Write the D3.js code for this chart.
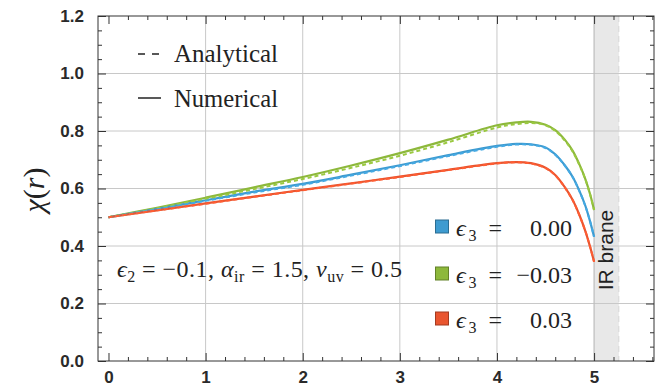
<!DOCTYPE html>
<html><head><meta charset="utf-8">
<script src="https://cdn.jsdelivr.net/npm/d3@7"></script>
<style>html,body{margin:0;padding:0;background:#fff;} svg{display:block;}</style>
</head><body>
<svg id="c" width="657" height="387"></svg>
<script>
// ---- data ----
const r = [0, 0.5, 1, 1.5, 2, 2.5, 3, 3.5, 4, 4.2, 4.35, 4.5, 4.6, 4.7, 4.78, 4.85, 4.91, 4.96, 5];
const greenNum = [0.5, 0.533, 0.568, 0.604, 0.640, 0.680, 0.723, 0.770, 0.820, 0.830, 0.832, 0.822, 0.803, 0.769, 0.731, 0.683, 0.633, 0.579, 0.525];
const greenAna = [0.5, 0.531, 0.564, 0.598, 0.633, 0.672, 0.714, 0.761, 0.812, 0.824, 0.828, 0.820, 0.800, 0.766, 0.728, 0.681, 0.632, 0.578, 0.525];
const blueNum  = [0.5, 0.529, 0.559, 0.589, 0.616, 0.648, 0.681, 0.716, 0.748, 0.755, 0.754, 0.743, 0.719, 0.680, 0.640, 0.591, 0.540, 0.484, 0.432];
const blueAna  = [0.5, 0.528, 0.557, 0.586, 0.613, 0.645, 0.678, 0.713, 0.745, 0.753, 0.752, 0.741, 0.717, 0.679, 0.639, 0.590, 0.539, 0.484, 0.432];
const redNum   = [0.5, 0.524, 0.548, 0.572, 0.595, 0.618, 0.641, 0.665, 0.688, 0.692, 0.688, 0.672, 0.647, 0.604, 0.560, 0.507, 0.452, 0.396, 0.345];
const redAna   = [0.5, 0.524, 0.547, 0.571, 0.594, 0.617, 0.640, 0.664, 0.687, 0.691, 0.687, 0.671, 0.646, 0.603, 0.559, 0.506, 0.452, 0.396, 0.345];
const seriesNames = ["0.00", "−0.03", "0.03"];
const seriesColors = ["#3e9bd0", "#8db83b", "#e9552f"];
const xTicks = [0, 1, 2, 3, 4, 5];
const yTicks = [0.0, 0.2, 0.4, 0.6, 0.8, 1.0, 1.2];
const braneRange = [5, 5.255];
const xDomain = [-0.108, 5.617];
const yDomain = [0, 1.2];

// ---- setup ----
const svg = d3.select("#c");
const L = 98, R = 654, T = 16, B = 361;
const x = d3.scaleLinear().domain(xDomain).range([L, R]);
const y = d3.scaleLinear().domain(yDomain).range([B, T]);

// brane band
svg.append("rect").attr("x", x(braneRange[0])).attr("y", T)
  .attr("width", x(braneRange[1]) - x(braneRange[0])).attr("height", B - T)
  .attr("fill", "#e8e8e8");

// grid
const grid = svg.append("g").attr("stroke", "#c8c8c8").attr("stroke-width", 1);
[1, 2, 3, 4].forEach(v => grid.append("line").attr("x1", x(v)).attr("x2", x(v)).attr("y1", T).attr("y2", B));
[0.2, 0.4, 0.6, 0.8, 1.0].forEach(v => grid.append("line").attr("x1", L).attr("x2", R).attr("y1", y(v)).attr("y2", y(v)));
svg.append("line").attr("x1", x(braneRange[0])).attr("x2", x(braneRange[0])).attr("y1", T).attr("y2", B)
  .attr("stroke", "#bdbdbd").attr("stroke-width", 1.2);
svg.append("line").attr("x1", x(braneRange[1])).attr("x2", x(braneRange[1])).attr("y1", T).attr("y2", B)
  .attr("stroke", "#d6d6d6").attr("stroke-width", 1).attr("stroke-dasharray", "6,4");

// frame and ticks via d3 axes
const tickCol = "#333";
function styleAxis(g) {
  g.select(".domain").remove();
  g.selectAll("line").attr("stroke", tickCol).attr("stroke-width", 1);
}
const xMinor = d3.range(0, 5.61, 0.2).filter(v => Math.abs(v - Math.round(v)) > 1e-6);
const yMinor = d3.range(0, 1.2001, 0.05).filter(v => Math.abs(v * 5 - Math.round(v * 5)) > 1e-6);
const sans = "Liberation Sans, Arial, sans-serif";

// bottom
const gb = svg.append("g").attr("transform", `translate(0,${B})`);
gb.call(d3.axisBottom(x).tickValues(xTicks).tickSize(-8).tickFormat(d3.format("d")).tickPadding(13)).call(styleAxis);
gb.selectAll("text").attr("font-family", sans).attr("font-size", 17)
  .attr("fill", "#2a2a2a").attr("font-weight", "bold").attr("dy", "0.5em");
svg.append("g").attr("transform", `translate(0,${B})`).call(d3.axisBottom(x).tickValues(xMinor).tickSize(-4).tickFormat("")).call(styleAxis);
// top
svg.append("g").attr("transform", `translate(0,${T})`).call(d3.axisTop(x).tickValues(xTicks).tickSize(-8).tickFormat("")).call(styleAxis);
svg.append("g").attr("transform", `translate(0,${T})`).call(d3.axisTop(x).tickValues(xMinor).tickSize(-4).tickFormat("")).call(styleAxis);
// left
const gl = svg.append("g").attr("transform", `translate(${L},0)`);
gl.call(d3.axisLeft(y).tickValues(yTicks).tickSize(-8).tickFormat(d3.format(".1f")).tickPadding(14)).call(styleAxis);
gl.selectAll("text").attr("font-family", sans).attr("font-size", 17)
  .attr("fill", "#2a2a2a").attr("font-weight", "bold");
svg.append("g").attr("transform", `translate(${L},0)`).call(d3.axisLeft(y).tickValues(yMinor).tickSize(-4).tickFormat("")).call(styleAxis);
// right
svg.append("g").attr("transform", `translate(${R},0)`).call(d3.axisRight(y).tickValues(yTicks).tickSize(-8).tickFormat("")).call(styleAxis);
svg.append("g").attr("transform", `translate(${R},0)`).call(d3.axisRight(y).tickValues(yMinor).tickSize(-4).tickFormat("")).call(styleAxis);

svg.append("rect").attr("x", L).attr("y", T).attr("width", R - L).attr("height", B - T)
  .attr("fill", "none").attr("stroke", tickCol).attr("stroke-width", 1);

// curves
const line = d3.line().x(d => x(d[0])).y(d => y(d[1])).curve(d3.curveCatmullRom.alpha(0.5));
const nums = [blueNum, greenNum, redNum];
const anas = [blueAna, greenAna, redAna];
const order = [1, 0, 2];
order.forEach(i => {
  svg.append("path").datum(r.map((v, k) => [v, nums[i][k]])).attr("d", line)
    .attr("fill", "none").attr("stroke", seriesColors[i]).attr("stroke-width", 2.2);
});
order.forEach(i => {
  svg.append("path").datum(r.map((v, k) => [v, anas[i][k]])).attr("d", line)
    .attr("fill", "none").attr("stroke", d3.color(seriesColors[i]).brighter(0.25)).attr("stroke-width", 2)
    .attr("stroke-dasharray", "4,3");
});

// legend (line styles)
const serif = "Liberation Serif, Times New Roman, serif";
const lg = svg.append("g");
lg.append("line").attr("x1", 138).attr("x2", 161).attr("y1", 54).attr("y2", 54)
  .attr("stroke", "#222").attr("stroke-width", 1.5).attr("stroke-dasharray", "7,7");
lg.append("text").attr("x", 174).attr("y", 62).attr("font-family", serif).attr("font-size", 25).attr("fill", "#222")
  .attr("textLength", 104).attr("lengthAdjust", "spacingAndGlyphs").text("Analytical");
lg.append("line").attr("x1", 138).attr("x2", 161).attr("y1", 98).attr("y2", 98)
  .attr("stroke", "#222").attr("stroke-width", 1.5);
lg.append("text").attr("x", 174).attr("y", 107).attr("font-family", serif).attr("font-size", 25).attr("fill", "#222")
  .attr("textLength", 104).attr("lengthAdjust", "spacingAndGlyphs").text("Numerical");

// parameter annotation
const ann = svg.append("text").attr("x", 117).attr("y", 277).attr("font-family", serif).attr("font-size", 24).attr("fill", "#222");
ann.append("tspan").attr("font-style", "italic").text("ϵ");
ann.append("tspan").attr("font-size", 16).attr("dy", 5).text("2");
ann.append("tspan").attr("dy", -5).text(" = −0.1, ");
ann.append("tspan").attr("font-style", "italic").text("α");
ann.append("tspan").attr("font-size", 16).attr("dy", 5).text("ir");
ann.append("tspan").attr("dy", -5).text(" = 1.5, ");
ann.append("tspan").attr("font-style", "italic").text("v");
ann.append("tspan").attr("font-size", 16).attr("dy", 5).text("uv");
ann.append("tspan").attr("dy", -5).text(" = 0.5");
ann.attr("textLength", 285).attr("lengthAdjust", "spacing");

// series legend
const rowsY = [226.5, 273.5, 318.5];
seriesNames.forEach((nm, i) => {
  const g = svg.append("g");
  g.append("rect").attr("x", 435.5).attr("y", rowsY[i] - 6.5).attr("width", 13).attr("height", 13)
    .attr("fill", seriesColors[i]).attr("stroke", d3.color(seriesColors[i]).darker(1)).attr("stroke-width", 1);
  const t = g.append("text").attr("x", 456).attr("y", rowsY[i] + 9).attr("font-family", serif).attr("font-size", 24).attr("fill", "#222");
  t.append("tspan").attr("font-style", "italic").text("ϵ");
  t.append("tspan").attr("font-size", 16).attr("dy", 5).text("3");
  t.append("tspan").attr("dy", -5).text(" =");
  t.attr("textLength", 46).attr("lengthAdjust", "spacing");
  g.append("text").attr("x", 572).attr("y", rowsY[i] + 9).attr("text-anchor", "end").attr("font-family", serif)
    .attr("font-size", 24).attr("fill", "#222").text(nm);
});

// IR brane label
svg.append("text").attr("transform", `translate(${(x(braneRange[0]) + x(braneRange[1])) / 2 + 7},250) rotate(-90)`)
  .attr("text-anchor", "middle").attr("font-family", sans).attr("font-size", 21)
  .attr("fill", "#222").text("IR brane");

// y axis label
const yl = svg.append("text").attr("transform", "translate(44,190) rotate(-90)").attr("text-anchor", "middle")
  .attr("font-family", serif).attr("font-size", 30).attr("fill", "#222");
yl.append("tspan").attr("font-style", "italic").text("χ");
yl.append("tspan").text("(");
yl.append("tspan").attr("font-style", "italic").text("r");
yl.append("tspan").text(")");
</script>
</body></html>
